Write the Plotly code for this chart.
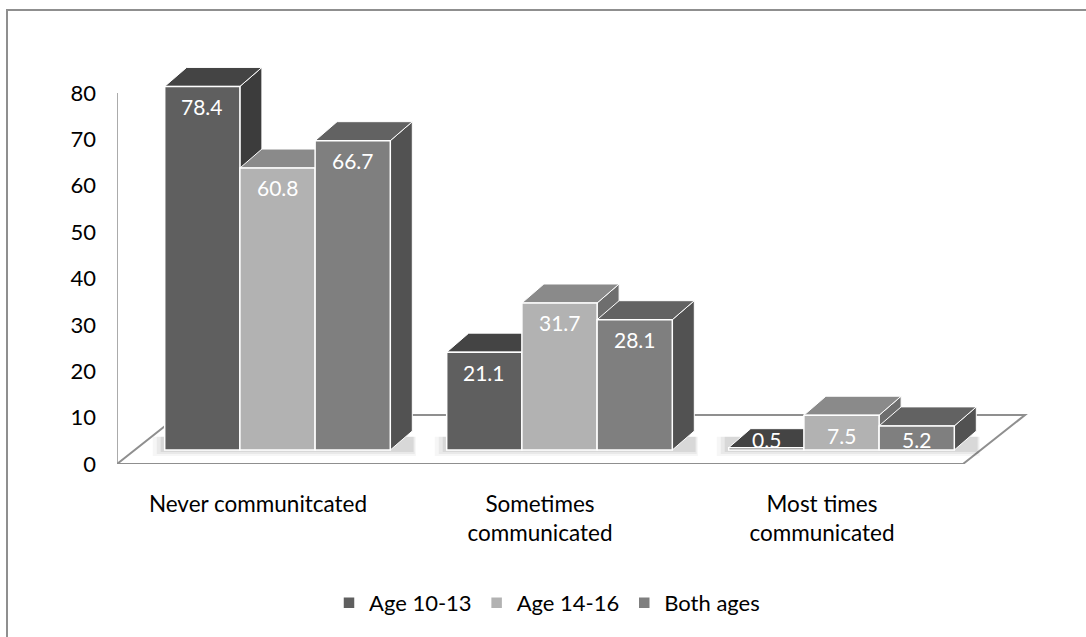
import plotly.graph_objects as go

# ---- data -------------------------------------------------------------
categories = ["Never communitcated", "Sometimes communicated", "Most times communicated"]
tick_labels = ["Never communitcated", "Sometimes<br>communicated", "Most times<br>communicated"]
series_names = ["Age 10-13", "Age 14-16", "Both ages"]
age_10_13 = [78.4, 21.1, 0.5]
age_14_16 = [60.8, 31.7, 7.5]
both_ages = [66.7, 28.1, 5.2]
value_ticks = [0, 10, 20, 30, 40, 50, 60, 70, 80]

series_values = [age_10_13, age_14_16, both_ages]

# ---- styling / geometry ------------------------------------------------
W, H = 1086, 637
ML, MB = 117, 173                 # plot area left edge and bottom margin (px)
PX_PER_CAT = 282.0                # horizontal scale (px per category)
PX_PER_UNIT = 4.6375              # vertical scale (px per value unit)
BAR_SHIFT_PX = (19.5, 14.0)       # bar row sits behind the front plane
TOP_DEPTH_PX = (22.0, 19.0)       # depth of each 3-D column
FLOOR_DEPTH_PX = (62.0, 49.0)     # depth of the floor plate
FONT = "Lato"
FS_LABEL = 21                     # data labels
FS_AXIS = 22                      # value axis
FS_CAT = 22.5                     # category axis
FS_LEG = 22                       # legend

FRONT = ["#5f5f5f", "#b2b2b2", "#7f7f7f"]
TOP = ["#444444", "#8a8a8a", "#626262"]
SIDE = ["#3c3c3c", "#6e6e6e", "#525252"]
EDGE = "#8f8f8f"

n_series = len(series_values)
group_w = 0.8
bar_w = group_w / n_series

x_span = (W - ML) / PX_PER_CAT
y_span = (H - MB) / PX_PER_UNIT
x2_shift = BAR_SHIFT_PX[0] / PX_PER_CAT
y2_shift = BAR_SHIFT_PX[1] / PX_PER_UNIT
ddx = TOP_DEPTH_PX[0] / PX_PER_CAT
ddy = TOP_DEPTH_PX[1] / PX_PER_UNIT
fdx = FLOOR_DEPTH_PX[0] / PX_PER_CAT
fdy = FLOOR_DEPTH_PX[1] / PX_PER_UNIT

xpos = list(range(len(categories)))

fig = go.Figure()

# front faces of the columns
for k, (name, vals) in enumerate(zip(series_names, series_values)):
    fig.add_trace(go.Bar(
        x=xpos, y=vals, name=name,
        width=bar_w, offset=(k - n_series / 2) * bar_w,
        marker=dict(color=FRONT[k], line=dict(color="white", width=1.5)),
        xaxis="x2", yaxis="y2", hoverinfo="name+y",
    ))

shapes = []

# floor plate (front plane coordinates)
x_left, x_right = -0.5, len(categories) - 0.5
shapes.append(dict(
    type="path", xref="x", yref="y", layer="below",
    path=(f"M {x_left},0 L {x_right},0 L {x_right + fdx},{fdy} "
          f"L {x_left + fdx},{fdy} Z"),
    fillcolor="white", line=dict(color=EDGE, width=2),
))

# soft shadows on the floor around each column group
for i in xpos:
    gl = i - group_w / 2
    gr = i + group_w / 2
    for s, op in [(12, 0.035), (8, 0.05), (4, 0.07)]:
        sx = s / PX_PER_CAT
        sy = s / PX_PER_UNIT
        shapes.append(dict(
            type="rect", xref="x2", yref="y2", layer="below",
            x0=gl - sx, x1=gr + ddx + sx * 0.3, y0=-sy * 0.5, y1=ddy * 0.7,
            fillcolor=f"rgba(0,0,0,{op})", line=dict(width=0),
        ))

# tops and right-hand sides, painted left to right
for i in xpos:
    for k in range(n_series):
        v = series_values[k][i]
        xl = i + (k - n_series / 2) * bar_w
        xr = xl + bar_w
        shapes.append(dict(
            type="path", xref="x2", yref="y2", layer="below",
            path=(f"M {xr},0 L {xr},{v} L {xr + ddx},{v + ddy} "
                  f"L {xr + ddx},{ddy} Z"),
            fillcolor=SIDE[k], line=dict(color="white", width=1),
        ))
        shapes.append(dict(
            type="path", xref="x2", yref="y2", layer="below",
            path=(f"M {xl},{v} L {xr},{v} L {xr + ddx},{v + ddy} "
                  f"L {xl + ddx},{v + ddy} Z"),
            fillcolor=TOP[k], line=dict(color="white", width=1),
        ))

# value axis line
shapes.append(dict(
    type="line", xref="x", yref="y", x0=x_left, x1=x_left,
    y0=0, y1=value_ticks[-1], line=dict(color=EDGE, width=1.5),
))

# chart frame
shapes.append(dict(
    type="rect", xref="paper", yref="paper",
    x0=(7 - ML) / (W - ML), x1=(W + 10 - ML) / (W - ML),
    y0=-(MB + 20) / (H - MB), y1=(H - MB - 10) / (H - MB),
    line=dict(color=EDGE, width=2), fillcolor="rgba(0,0,0,0)",
))

# data labels
annotations = []
for k in range(n_series):
    for i in xpos:
        v = series_values[k][i]
        xc = i + (k - n_series / 2 + 0.5) * bar_w
        annotations.append(dict(
            x=xc, y=max(v - 4.3, 2.2), xref="x2", yref="y2",
            text=f"{v:.1f}", showarrow=False,
            font=dict(family=FONT, size=FS_LABEL, color="white"),
            xanchor="center", yanchor="middle",
        ))

fig.update_layout(
    width=W, height=H,
    margin=dict(l=ML, r=0, t=0, b=MB),
    paper_bgcolor="white", plot_bgcolor="white",
    barmode="group", bargap=0.2, bargroupgap=0,
    showlegend=True,
    legend=dict(
        orientation="h", xanchor="center", yanchor="middle",
        x=(547 - ML) / (W - ML), y=-(603 - (H - MB)) / (H - MB),
        font=dict(family=FONT, size=FS_LEG, color="black"),
        bgcolor="rgba(0,0,0,0)", itemclick=False,
    ),
    xaxis=dict(
        range=[x_left, x_left + x_span], tickvals=xpos, ticktext=tick_labels,
        showgrid=False, zeroline=False, showline=False, ticks="",
        ticklabelstandoff=24, tickfont=dict(family=FONT, size=FS_CAT, color="black"),
        fixedrange=True,
    ),
    yaxis=dict(
        range=[0, y_span], tickvals=value_ticks,
        showgrid=False, zeroline=False, showline=False, ticks="",
        ticklabelstandoff=20, tickfont=dict(family=FONT, size=FS_AXIS, color="black"),
        fixedrange=True,
    ),
    xaxis2=dict(
        range=[x_left - x2_shift, x_left - x2_shift + x_span],
        overlaying="x", anchor="y2", visible=False, fixedrange=True,
    ),
    yaxis2=dict(
        range=[-y2_shift, y_span - y2_shift],
        overlaying="y", anchor="x2", visible=False, fixedrange=True,
    ),
    shapes=shapes, annotations=annotations,
    font=dict(family=FONT, size=FS_AXIS, color="black"),
)

fig.write_html("out.html")
